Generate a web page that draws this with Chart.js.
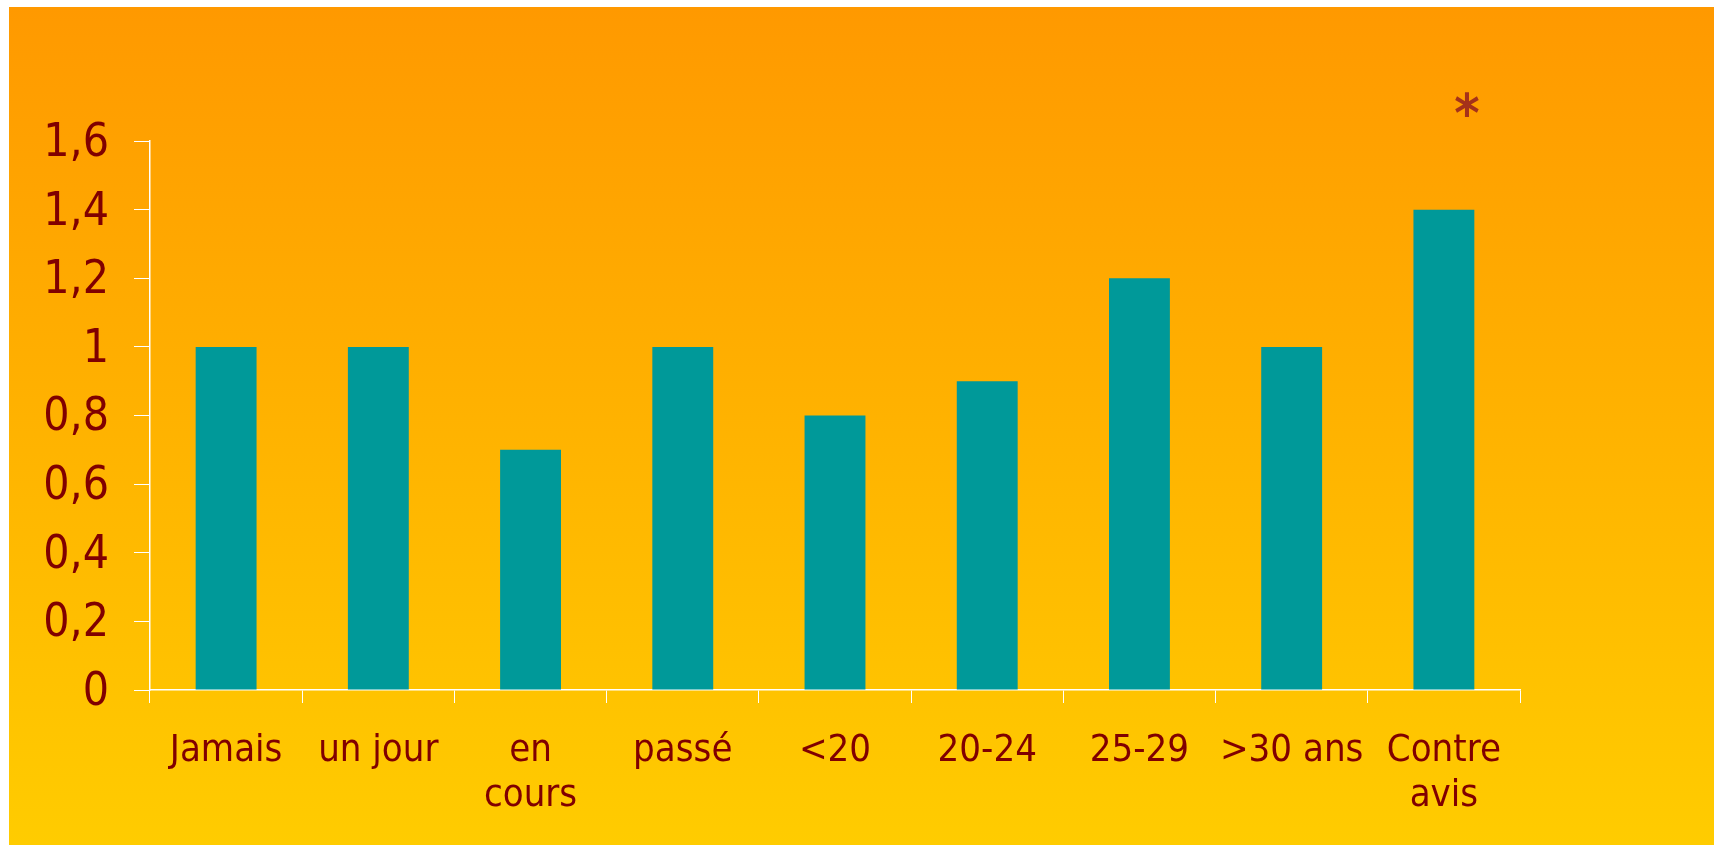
<!DOCTYPE html>
<html>
<head>
<meta charset="utf-8">
<script src="https://cdn.jsdelivr.net/npm/chart.js@4"></script>
<style>
    html, body { margin: 0; padding: 0; background: #ffffff; overflow: hidden; }
    #panel {
        position: absolute;
        left: 9px; top: 7px;
        width: 1705px; height: 838px;
        background: linear-gradient(to bottom, #ff9900 0%, #ffcc00 100%);
    }
</style>
</head>
<body>
<div id="panel"><canvas id="riskChart"></canvas></div>
<script>
// Data
const categories = ['Jamais', 'un jour', ['en', 'cours'], 'passé', '<20', '20-24', '25-29', '>30 ans', ['Contre', 'avis']];
const riskValues = [1, 1, 0.7, 1, 0.8, 0.9, 1.2, 1, 1.4];
const yTickLabels = ['0', '0,2', '0,4', '0,6', '0,8', '1', '1,2', '1,4', '1,6'];
// significance marks drawn above the bars
const starMarks = ['', '', '', '', '', '', '', '', '*'];

const textColor = '#800000';
const fontFamily = "'DejaVu Sans Condensed', 'DejaVu Sans', sans-serif";

// Draws the asterisk above significant bars
const starPlugin = {
    id: 'starMarks',
    afterDatasetsDraw(chart) {
        const ctx = chart.ctx;
        const xScale = chart.scales.x;
        const yScale = chart.scales.y;
        ctx.save();
        ctx.fillStyle = '#a5321a';
        ctx.font = 'bold 54px ' + fontFamily;
        ctx.textAlign = 'center';
        ctx.textBaseline = 'middle';
        starMarks.forEach((mark, i) => {
            if (!mark) return;
            const x = xScale.getPixelForValue(i) + 23;
            const y = yScale.getPixelForValue(riskValues[i]) - 92;
            ctx.fillText(mark, x, y);
        });
        ctx.restore();
    }
};

const ctx = document.getElementById('riskChart').getContext('2d');
new Chart(ctx, {
    type: 'bar',
    data: {
        labels: categories,
        datasets: [{
            data: riskValues,
            backgroundColor: '#009999',
            borderWidth: 0,
            barPercentage: 0.4,
            categoryPercentage: 1
        }]
    },
    options: {
        responsive: true,
        maintainAspectRatio: false,
        animation: false,
        layout: {
            padding: { top: 134, right: 194, bottom: 0, left: 0 }
        },
        plugins: {
            legend: { display: false },
            tooltip: { enabled: false }
        },
        scales: {
            y: {
                min: 0,
                max: 1.6,
                afterFit(scale) { scale.width = 141; },
                ticks: {
                    stepSize: 0.2,
                    color: textColor,
                    padding: 25,
                    labelOffset: 3,
                    font: { family: fontFamily, size: 46 },
                    callback: (value, index) => yTickLabels[index]
                },
                grid: {
                    drawOnChartArea: false,
                    color: '#ffffff',
                    tickLength: 16,
                    tickColor: '#ffffff'
                },
                border: { color: '#ffffff', width: 1.5 }
            },
            x: {
                afterFit(scale) { scale.height = 155; },
                ticks: {
                    color: textColor,
                    padding: 25,
                    maxRotation: 0,
                    autoSkip: false,
                    font: { family: fontFamily, size: 38, lineHeight: 1.2 }
                },
                grid: {
                    drawOnChartArea: false,
                    offset: true,
                    color: '#ffffff',
                    tickLength: 13,
                    tickColor: '#ffffff'
                },
                border: { color: '#ffffff', width: 1.5 }
            }
        }
    },
    plugins: [starPlugin]
});
</script>
</body>
</html>
